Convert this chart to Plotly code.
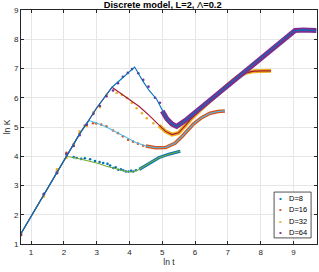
import plotly.graph_objects as go

# ---------------- data ----------------
labels = ["D=8", "D=16", "D=32", "D=64"]
dot_colors = ["#0072BD", "#D95319", "#EDB120", "#7E2F8E"]
fit_colors = ["#77AC30", "#4DBEEE", "#A2142F", "#0072BD"]

# common growth envelope (ln t, ln K)
env_x = [0.69, 1.39, 2.08, 2.50, 2.77, 3.00, 3.47, 3.87, 4.16]
env_y = [1.35, 2.70, 4.00, 4.80, 5.25, 5.65, 6.36, 6.78, 7.05]

# fitted curves after branching off the envelope
fit8_x = [2.08, 2.40, 2.70, 3.00, 3.30, 3.60, 3.90, 4.10, 4.30, 4.60, 4.90, 5.20, 5.55]
fit8_y = [4.00, 3.93, 3.86, 3.77, 3.66, 3.56, 3.48, 3.46, 3.55, 3.76, 3.95, 4.07, 4.17]

fit16_x = [2.77, 3.00, 3.30, 3.60, 3.90, 4.20, 4.50, 4.80, 5.10, 5.40, 5.64, 5.95, 6.20, 6.46, 6.70, 6.91]
fit16_y = [5.22, 5.14, 5.00, 4.82, 4.64, 4.47, 4.35, 4.29, 4.30, 4.45, 4.72, 5.10, 5.32, 5.47, 5.53, 5.55]

fit32_x = [3.47, 3.70, 4.00, 4.30, 4.60, 4.90, 5.10, 5.30, 5.50, 5.70, 5.90, 6.20, 6.60, 7.00, 7.30, 7.55, 7.80, 8.10, 8.32]
fit32_y = [6.36, 6.18, 5.95, 5.70, 5.40, 5.05, 4.85, 4.74, 4.80, 5.05, 5.30, 5.62, 6.05, 6.44, 6.72, 6.85, 6.91, 6.92, 6.92]

fit64_x = [4.16, 4.42, 4.60, 4.83, 5.00, 5.14, 5.30, 5.44, 5.70, 6.00, 7.00, 8.00, 8.80, 9.05, 9.30, 9.70]
fit64_y = [7.05, 6.55, 6.25, 5.95, 5.55, 5.28, 5.10, 5.02, 5.22, 5.50, 6.44, 7.37, 8.10, 8.30, 8.32, 8.30]

# start of the dense (continuous) part of each dot cloud, ln t
band_start = [4.20, 4.40, 4.70, 4.90]

# individually visible dots (ln t, ln K)
dot8_x = [0.69, 1.39, 1.79, 2.08, 2.30, 2.39, 2.53, 2.64, 2.80, 2.95, 3.09, 3.20, 3.33, 3.41, 3.51,
          3.58, 3.66, 3.74, 3.81, 3.89, 3.97, 4.05, 4.12, 4.20]
dot8_y = [1.32, 2.70, 3.45, 4.05, 3.97, 3.94, 3.91, 3.93, 3.90, 3.84, 3.80, 3.77, 3.74, 3.68, 3.60,
          3.62, 3.54, 3.55, 3.52, 3.48, 3.48, 3.50, 3.48, 3.52]

dot16_x = [0.69, 1.39, 1.79, 2.08, 2.30, 2.48, 2.64, 2.89, 2.99, 3.14, 3.30, 3.50, 3.65, 3.80,
           3.96, 4.11, 4.26, 4.42]
dot16_y = [1.30, 2.68, 3.48, 4.12, 4.40, 4.78, 5.05, 5.13, 5.12, 5.08, 5.02, 4.88, 4.79, 4.68,
           4.56, 4.50, 4.43, 4.36]

dot32_x = [0.69, 1.39, 1.79, 2.08, 2.30, 2.48, 2.70, 2.90, 3.10, 3.30, 3.61, 3.77, 3.92, 4.07,
           4.22, 4.38, 4.53, 4.73]
dot32_y = [1.37, 2.62, 3.55, 3.95, 4.42, 4.85, 5.03, 5.50, 5.68, 6.10, 6.16, 6.10, 5.99, 5.82,
           5.64, 5.47, 5.30, 5.13]

dot64_x = [0.69, 1.39, 1.79, 2.08, 2.30, 2.48, 2.70, 2.90, 3.10, 3.30, 3.50, 3.65, 3.80, 3.95,
           4.08, 4.27, 4.42, 4.58, 4.78, 4.93]
dot64_y = [1.33, 2.72, 3.42, 4.08, 4.35, 4.72, 5.08, 5.45, 5.72, 6.05, 6.25, 6.50, 6.72, 6.85,
           6.98, 6.84, 6.61, 6.38, 6.00, 5.83]

x_ticks = [1, 2, 3, 4, 5, 6, 7, 8, 9]
y_ticks = [1, 2, 3, 4, 5, 6, 7, 8, 9]

# ---------------- figure ----------------
fits_x = [fit8_x, fit16_x, fit32_x, fit64_x]
fits_y = [fit8_y, fit16_y, fit32_y, fit64_y]
dots_x = [dot8_x, dot16_x, dot32_x, dot64_x]
dots_y = [dot8_y, dot16_y, dot32_y, dot64_y]
band_w = [3.0, 3.5, 4.0, 5.0]
FONT = "Liberation Sans, Arial, sans-serif"

fig = go.Figure()
for i in range(4):
    cut = [k for k, v in enumerate(env_x) if v < fits_x[i][0]]
    cx = [env_x[k] for k in cut] + fits_x[i]
    cy = [env_y[k] for k in cut] + fits_y[i]
    bx = [x for x in fits_x[i] if x >= band_start[i]]
    by = [y for x, y in zip(fits_x[i], fits_y[i]) if x >= band_start[i]]
    fig.add_trace(go.Scatter(x=dots_x[i], y=dots_y[i], mode="markers", name=labels[i],
                             showlegend=False,
                             marker=dict(color=dot_colors[i], size=2.6, line=dict(width=0))))
    fig.add_trace(go.Scatter(x=bx, y=by, mode="lines", showlegend=False,
                             line=dict(color=dot_colors[i], width=band_w[i]), hoverinfo="skip"))
    fig.add_trace(go.Scatter(x=cx, y=cy, mode="lines", showlegend=False,
                             line=dict(color=fit_colors[i], width=1.1)))

axis_common = dict(showgrid=True, gridcolor="#e6e6e6", gridwidth=1, zeroline=False,
                   showline=True, linecolor="#262626", linewidth=0.8, mirror="ticks",
                   ticks="inside", ticklen=3, tickcolor="#262626", tickwidth=0.8,
                   automargin=False,
                   tickfont=dict(family=FONT, size=8, color="#262626"))

fig.update_xaxes(range=[0.693, 9.72], tickvals=x_ticks, ticktext=[str(v) for v in x_ticks],
                 title=dict(text="ln t", font=dict(family=FONT, size=8.5, color="#262626"), standoff=3),
                 **axis_common)
fig.update_yaxes(range=[1, 9], tickvals=y_ticks, ticktext=[str(v) for v in y_ticks],
                 title=dict(text="ln K", font=dict(family=FONT, size=8.5, color="#262626"), standoff=2),
                 **axis_common)

# legend box (MATLAB style, compact)
fig.add_shape(type="rect", xref="paper", yref="paper", x0=0.855, x1=0.98, y0=0.026, y1=0.222,
              line=dict(color="#262626", width=0.8), fillcolor="white", layer="above")
leg_y = [0.195, 0.148, 0.098, 0.051]
for i in range(4):
    fig.add_annotation(xref="paper", yref="paper", x=0.877, y=leg_y[i], xanchor="center", yanchor="middle",
                       text="•", showarrow=False, font=dict(family=FONT, size=8, color=dot_colors[i]))
    fig.add_annotation(xref="paper", yref="paper", x=0.899, y=leg_y[i], xanchor="left", yanchor="middle",
                       text=labels[i], showarrow=False, font=dict(family=FONT, size=7.5, color="#000000"))

fig.update_layout(
    width=319, height=272,
    margin=dict(l=21, r=2, t=10, b=28),
    paper_bgcolor="white", plot_bgcolor="white",
    title=dict(text="<b>Discrete model, L=2, </b>Λ<b>=0.2</b>", x=0.51, xanchor="center",
               y=0.995, yanchor="top",
               font=dict(family=FONT, size=9.3, color="#000000")),
    showlegend=False,
)

fig.write_html("out.html", config={"displayModeBar": False},
               post_script="document.body.style.margin='0px';")
